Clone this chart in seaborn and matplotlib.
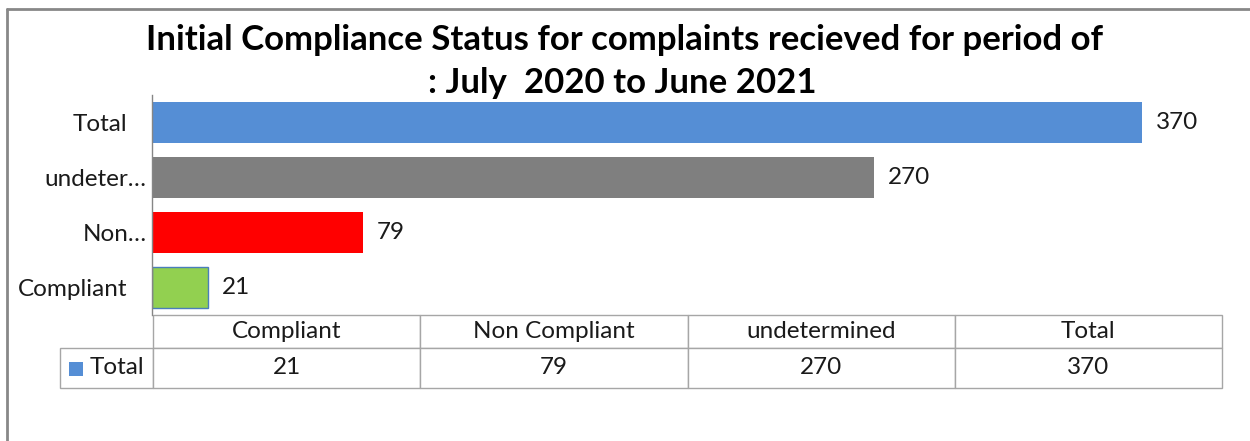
import matplotlib
matplotlib.use("Agg")
import matplotlib.pyplot as plt
from matplotlib.patches import Rectangle
from matplotlib.lines import Line2D
from matplotlib.table import Table
from matplotlib.transforms import ScaledTranslation
import seaborn as sns

# Data (table order: left to right)
categories = ["Compliant", "Non Compliant", "undetermined", "Total"]
counts = [21, 79, 270, 370]
axis_labels = ["Compliant", "Non…", "undeter…", "Total"]
bar_colors = ["#92D050", "#FF0000", "#7F7F7F", "#558ED5"]
series_name = "Total"

TITLE_1 = "Initial Compliance Status for complaints recieved for period of"
TITLE_2 = ": July  2020 to June 2021"

sns.set_theme(style="white")
plt.rcParams["font.family"] = ["Lato", "DejaVu Sans"]

W, H = 1250, 441
FS = 17.5
TXT = "#1a1a1a"
fig = plt.figure(figsize=(W / 100, H / 100), dpi=100)
fig.patch.set_facecolor("white")

# axes placed in pixel terms
ax_l, ax_r, ax_t, ax_b = 152, 1222, 95, 315
ax = fig.add_axes([ax_l / W, 1 - ax_b / H, (ax_r - ax_l) / W, (ax_b - ax_t) / H])

order = categories[::-1]
palette = dict(zip(categories, bar_colors))
sns.barplot(
    x=counts,
    y=categories,
    order=order,
    hue=categories,
    hue_order=categories,
    palette=palette,
    legend=False,
    width=0.75,
    saturation=1,
    ax=ax,
)
# thin blue edge on the small green bar, like the original
for patch in ax.patches:
    patch.set_linewidth(0)
ax.patches[0].set_edgecolor("#4A7EBB")
ax.patches[0].set_linewidth(1)

ax.set_xlim(0, 400)
ax.set_xticks([])
ax.set_xlabel("")
ax.set_ylabel("")
ax.set_yticks(range(len(order)))
ax.set_yticklabels(axis_labels[::-1], fontsize=FS, color=TXT)
ax.tick_params(axis="y", length=0, pad=18)
# truncated labels sit closer to the axis in the original
for lab in ax.get_yticklabels():
    if lab.get_text().endswith("…"):
        lab.set_transform(lab.get_transform()
                          + ScaledTranslation(14 / 72, 0, fig.dpi_scale_trans))
for s in ["top", "right", "bottom"]:
    ax.spines[s].set_visible(False)
ax.spines["left"].set_color("#868686")
ax.spines["left"].set_linewidth(1)

for cont in ax.containers:
    ax.bar_label(cont, padding=10, fontsize=FS, color=TXT)

# data table under the plot
tab_left, tab_bottom = 60, 388
head_h, row_h, lab_w, col_w = 33, 40, 93, 267
bbox = [
    (tab_left - ax_l) / (ax_r - ax_l),
    (ax_b - tab_bottom) / (ax_b - ax_t),
    (ax_r - tab_left) / (ax_r - ax_l),
    (tab_bottom - ax_b) / (ax_b - ax_t),
]
tbl = Table(ax, bbox=bbox)
for j, cat in enumerate(categories):
    tbl.add_cell(0, j + 1, width=col_w, height=head_h, text=cat, loc="center")
    tbl.add_cell(1, j + 1, width=col_w, height=row_h, text=str(counts[j]), loc="center")
tbl.add_cell(1, 0, width=lab_w, height=row_h, text=series_name, loc="right")
tbl.auto_set_font_size(False)
for (r, cidx), cell in tbl.get_celld().items():
    cell.set_edgecolor("#A6A6A6")
    cell.set_linewidth(1)
    cell.get_text().set_fontsize(FS)
    cell.get_text().set_color(TXT)
ax.add_table(tbl)

# legend key in the row label cell
fig.add_artist(Rectangle((69 / W, 1 - 376 / H), 14 / W, 14 / H,
                         facecolor="#558ED5", edgecolor="none",
                         transform=fig.transFigure))

# outer chart border (left and top edges visible)
border = "#888888"
fig.add_artist(Line2D([7 / W, 7 / W], [0, 1 - 9 / H], color=border,
                      linewidth=2, transform=fig.transFigure))
fig.add_artist(Line2D([7 / W, 1], [1 - 9 / H, 1 - 9 / H], color=border,
                      linewidth=2, transform=fig.transFigure))

fig.text(0.4992, 1 - 50 / H, TITLE_1, ha="center", va="baseline",
         fontsize=25, fontweight="bold", color="black")
fig.text(0.4975, 1 - 93 / H, TITLE_2, ha="center", va="baseline",
         fontsize=25, fontweight="bold", color="black")

fig.savefig("out.png", dpi=100, facecolor="white")
